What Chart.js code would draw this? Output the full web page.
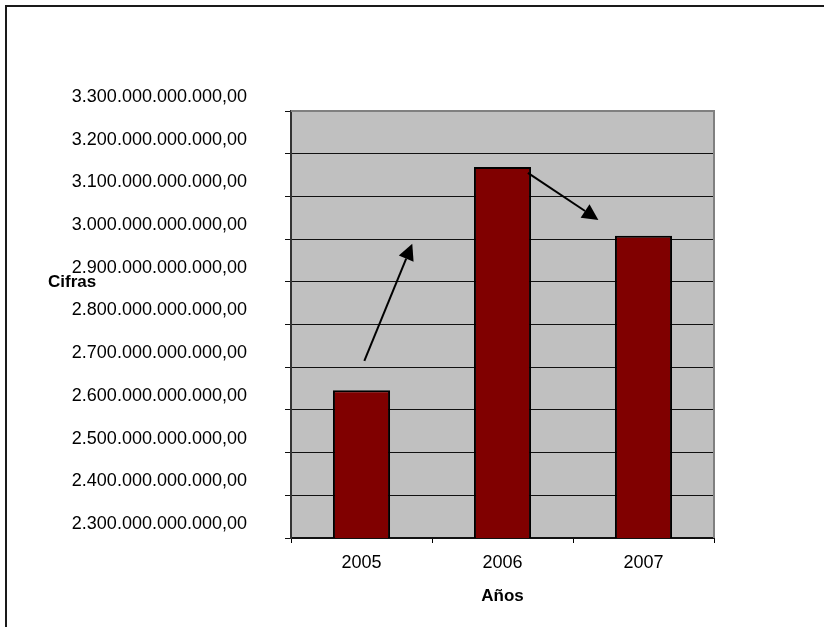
<!DOCTYPE html>
<html>
<head>
<meta charset="utf-8">
<script src="https://cdn.jsdelivr.net/npm/chart.js@4"></script>
<style>
  html, body { margin: 0; padding: 0; background: #fff; }
  #frame {
    position: absolute; left: 5px; top: 5px; width: 900px; height: 700px;
    border-left: 2px solid #1a1a1a; border-top: 2px solid #1a1a1a;
  }
  #chart { position: absolute; left: 0; top: 0; }
</style>
</head>
<body>
<div id="frame"></div>
<canvas id="chart" width="824" height="627"></canvas>
<script>
const years = ["2005", "2006", "2007"];
const cifras = [2646000000000, 3169000000000, 3008000000000];

const yMin = 2300000000000;
const yMax = 3300000000000;
const yStep = 100000000000;

// arrows in data units: [category index, value]
const arrowFrom = [[0.02, 2715000000000], [1.18, 3155000000000]];
const arrowTo = [[0.36, 2989000000000], [1.68, 3045000000000]];

function fmt(v) {
    const n = Math.round(v).toString();
    return n.replace(/\B(?=(\d{3})+(?!\d))/g, ".") + ",00";
}

const plotBg = {
    id: "plotBg",
    beforeDraw(chart) {
        const { ctx, chartArea: a } = chart;
        ctx.save();
        ctx.fillStyle = "#c0c0c0";
        ctx.fillRect(a.left, a.top, a.right - a.left, a.bottom - a.top);
        ctx.restore();
    },
    afterDraw(chart) {
        const { ctx, chartArea: a, scales } = chart;
        ctx.save();
        // top and right plot border
        ctx.strokeStyle = "#808080";
        ctx.lineWidth = 2;
        ctx.beginPath();
        ctx.moveTo(a.left, a.top);
        ctx.lineTo(a.right, a.top);
        ctx.lineTo(a.right, a.bottom);
        ctx.stroke();

        // arrows
        ctx.strokeStyle = "#000";
        ctx.fillStyle = "#000";
        ctx.lineWidth = 2;
        arrowFrom.forEach((f, i) => {
            const t = arrowTo[i];
            const x1 = scales.x.getPixelForValue(f[0]), y1 = scales.y.getPixelForValue(f[1]);
            const x2 = scales.x.getPixelForValue(t[0]), y2 = scales.y.getPixelForValue(t[1]);
            const ang = Math.atan2(y2 - y1, x2 - x1);
            const len = 16, half = 8;
            const bx = x2 - len * Math.cos(ang), by = y2 - len * Math.sin(ang);
            ctx.beginPath();
            ctx.moveTo(x1, y1);
            ctx.lineTo(bx, by);
            ctx.stroke();
            ctx.beginPath();
            ctx.moveTo(x2, y2);
            ctx.lineTo(bx + half * Math.sin(ang), by - half * Math.cos(ang));
            ctx.lineTo(bx - half * Math.sin(ang), by + half * Math.cos(ang));
            ctx.closePath();
            ctx.fill();
        });

        // horizontal y title
        ctx.font = "bold 17px 'Liberation Sans', Arial, sans-serif";
        ctx.textAlign = "left";
        ctx.textBaseline = "middle";
        ctx.fillText("Cifras", 48, 282);
        ctx.restore();
    }
};

new Chart(document.getElementById("chart"), {
    type: "bar",
    data: {
        labels: years,
        datasets: [{
            data: cifras,
            backgroundColor: "#800000",
            borderColor: "#000",
            borderWidth: 2,
            categoryPercentage: 1,
            barPercentage: 0.405
        }]
    },
    options: {
        responsive: false,
        animation: false,
        devicePixelRatio: 1,
        layout: { padding: { top: 111, right: 110, bottom: 0, left: 0 } },
        plugins: { legend: { display: false }, tooltip: { enabled: false } },
        scales: {
            x: {
                grid: { display: true, drawOnChartArea: false, color: "#000", tickLength: 5 },
                border: { color: "#111", width: 2 },
                ticks: { color: "#000", padding: 9, font: { family: "'Liberation Sans', Arial", size: 18 } },
                title: {
                    display: true, text: "Años", color: "#000",
                    font: { family: "'Liberation Sans', Arial", size: 17, weight: "bold" },
                    padding: { top: 0, bottom: 20 }
                },
                afterFit(s) { s.height = 89; }
            },
            y: {
                min: yMin,
                max: yMax,
                grid: { color: "#111", lineWidth: 1, tickLength: 6 },
                border: { color: "#333", width: 2 },
                ticks: {
                    stepSize: yStep,
                    color: "#000",
                    padding: 38,
                    labelOffset: -14,
                    font: { family: "'Liberation Sans', Arial", size: 18 },
                    callback: v => fmt(v)
                },
                afterFit(s) { s.width = 291; }
            }
        }
    },
    plugins: [plotBg]
});
</script>
</body>
</html>
